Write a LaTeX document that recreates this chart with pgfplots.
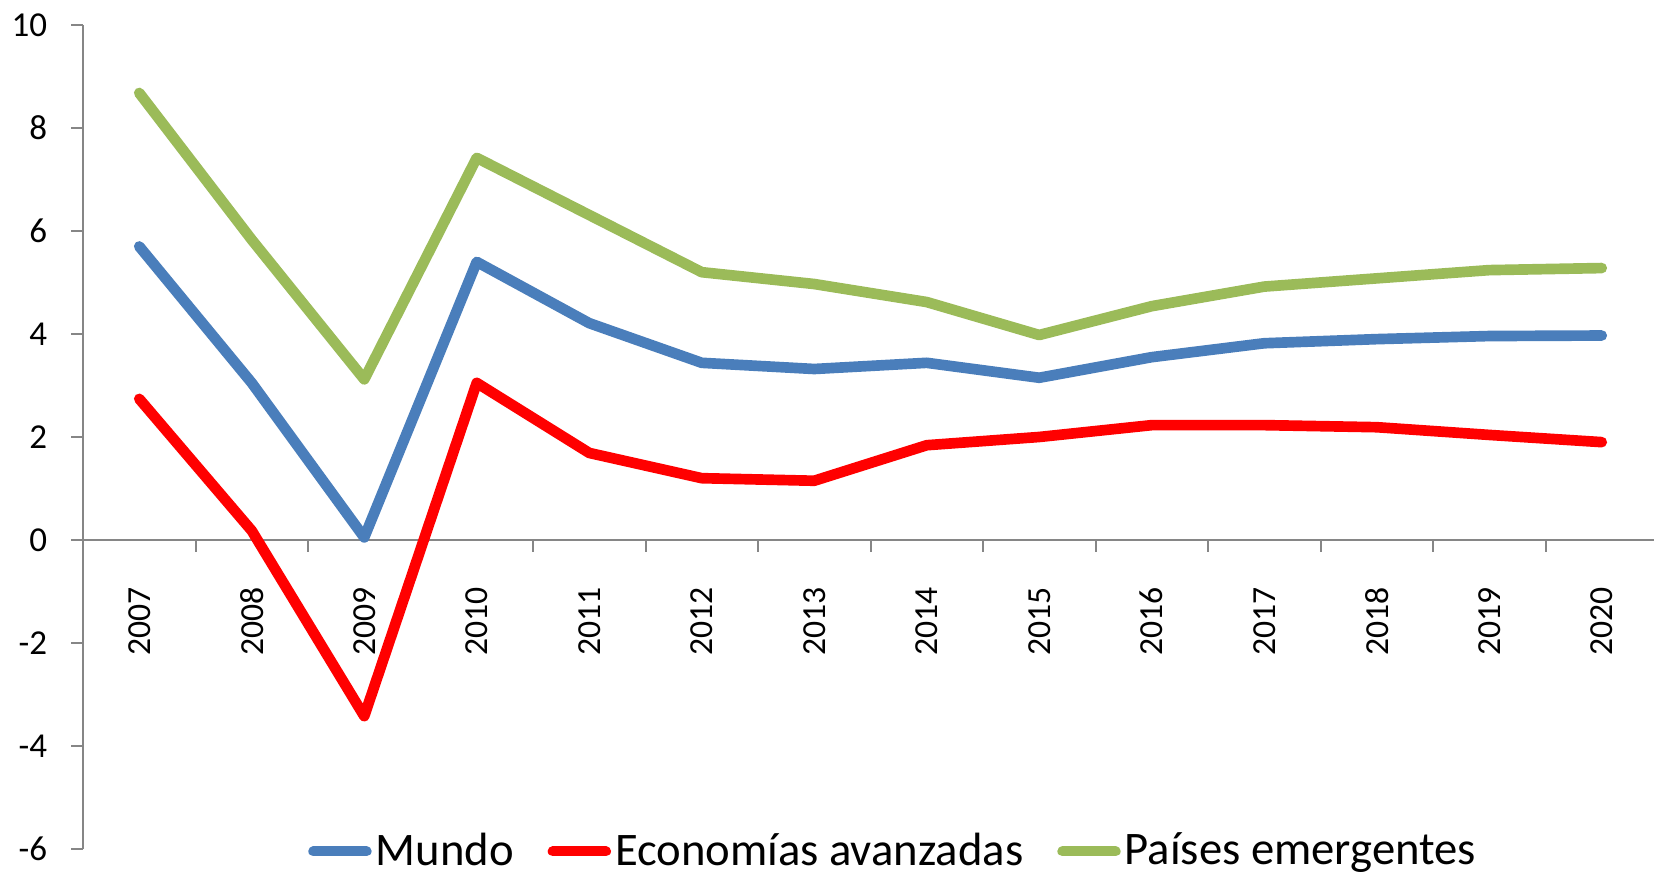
\documentclass[border=0pt]{standalone}
\usepackage{pgfplots}
\pgfplotsset{compat=1.18}
\usepackage{fontspec}
\setmainfont{Carlito}
\definecolor{cblue}{RGB}{74,126,187}
\definecolor{cred}{RGB}{255,0,0}
\definecolor{cgreen}{RGB}{155,187,89}
\definecolor{cax}{RGB}{134,134,134}
\begin{document}
\begin{tikzpicture}
\begin{scope}
\clip (-24.9pt,-7.2pt) rectangle (471.3pt,254.7pt);
\begin{axis}[
  scale only axis, width=472.5pt, height=247.2pt,
  xmin=-0.5, xmax=13.5, ymin=-6, ymax=10,
  axis y line=left, axis x line=middle,
  axis line style={draw=cax, line width=0.6pt, -},
  tick align=outside,
  xtick align=outside, ytick align=outside,
  ytick={-6,-4,...,10},
  xtick={0,...,13},
  xticklabels={2007,2008,2009,2010,2011,2012,2013,2014,2015,2016,2017,2018,2019,2020},
  minor xtick={0.5,1.5,...,12.5},
  major x tick style={draw=none},
  minor x tick style={draw=cax, line width=0.6pt},
  y tick style={draw=cax, line width=0.6pt},
  major tick length=3.6pt, minor tick length=3.6pt,
  /pgf/number format/assume math mode=true,
  tick label style={font=\fontsize{10.5pt}{12pt}\selectfont, text=black},
  xticklabel style={rotate=90, anchor=east, inner sep=0pt, xshift=-10.5pt, font=\fontsize{10.1pt}{12pt}\selectfont},
  yticklabel style={anchor=east, inner sep=0pt, xshift=-7pt},
  clip=false,
  legend columns=3,
  legend style={draw=none, fill=none, at={(axis description cs:0.515,-0.003)}, anchor=center,
    font=\fontsize{14pt}{16pt}\selectfont, inner sep=0pt,
    nodes={inner sep=1.2pt},
    /tikz/every even column/.append style={column sep=9pt}},
  legend image code/.code={\draw[#1, line width=3pt, line cap=round] (0pt,0pt) -- (16pt,0pt);},
  every axis plot/.append style={line width=3.2pt, line join=round, line cap=round},
]
\addplot[cblue] coordinates {(0,5.70) (1,3.05) (2,0.05) (3,5.40) (4,4.21) (5,3.44) (6,3.32) (7,3.44) (8,3.15) (9,3.55) (10,3.82) (11,3.90) (12,3.96) (13,3.97)};
\addlegendentry{Mundo}
\addplot[cred] coordinates {(0,2.74) (1,0.18) (2,-3.42) (3,3.05) (4,1.69) (5,1.20) (6,1.15) (7,1.84) (8,2.00) (9,2.23) (10,2.23) (11,2.19) (12,2.04) (13,1.90)};
\addlegendentry{Economías avanzadas}
\addplot[cgreen] coordinates {(0,8.68) (1,5.83) (2,3.12) (3,7.42) (4,6.31) (5,5.20) (6,4.97) (7,4.62) (8,3.98) (9,4.54) (10,4.92) (11,5.08) (12,5.24) (13,5.28)};
\addlegendentry{Países emergentes}
\end{axis}
\end{scope}
\pgfresetboundingbox
\useasboundingbox (-24.9pt,-7.2pt) rectangle (471.3pt,254.7pt);
\end{tikzpicture}
\end{document}
